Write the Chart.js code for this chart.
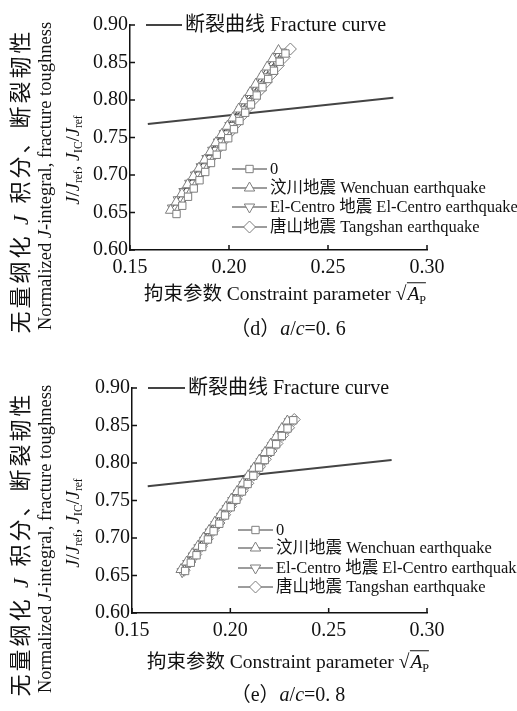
<!DOCTYPE html>
<html>
<head>
<meta charset="utf-8">
<script src="https://cdn.jsdelivr.net/npm/chart.js@4.4.0/dist/chart.umd.min.js"></script>
<style>
body { margin: 0; background: #fff; }
#page { position: relative; width: 517px; height: 711px; background: #fff; overflow: hidden;
        font-family: 'Liberation Serif', 'Noto Sans CJK SC', serif; color: #111; }
canvas { position: absolute; left: 0; }
.lab { position: absolute; white-space: nowrap; transform: translate(-50%, -50%); line-height: 1; }
.rot { transform: translate(-50%, -50%) rotate(-90deg); }
.wide { letter-spacing: 3px; }
sub { font-size: 0.62em; vertical-align: -0.3em; line-height: 0; font-style: normal; letter-spacing: 0; }
.rad { border-top: 1px solid #111; padding-left: 1px; }
</style>
</head>
<body>
<div id="page">
  <canvas id="chartD" width="517" height="360" style="top:0px"></canvas>
  <canvas id="chartE" width="517" height="360" style="top:363px"></canvas>

  <div class="lab rot wide" style="left:21px;top:181px;font-size:22px">无量纲化 <i>J</i> 积分、断裂韧性</div>
  <div class="lab rot" style="left:45px;top:176px;font-size:18.5px">Normalized <i>J</i>-integral, fracture toughness</div>
  <div class="lab rot" style="left:73px;top:160px;font-size:18.5px"><i>J</i>/<i>J</i><sub>ref</sub>, <i>J</i><sub>IC</sub>/<i>J</i><sub>ref</sub></div>
  <div class="lab" style="left:285px;top:294px;font-size:19.5px">拘束参数 Constraint parameter √<span class="rad"><i>A</i><sub>P</sub></span></div>
  <div class="lab" style="left:288px;top:328px;font-size:20px">（d）<i>a</i>/<i>c</i>=0. 6</div>

  <div class="lab rot wide" style="left:21px;top:544px;font-size:22px">无量纲化 <i>J</i> 积分、断裂韧性</div>
  <div class="lab rot" style="left:45px;top:539px;font-size:18.5px">Normalized <i>J</i>-integral, fracture toughness</div>
  <div class="lab rot" style="left:73px;top:523px;font-size:18.5px"><i>J</i>/<i>J</i><sub>ref</sub>, <i>J</i><sub>IC</sub>/<i>J</i><sub>ref</sub></div>
  <div class="lab" style="left:288px;top:662px;font-size:19.5px">拘束参数 Constraint parameter √<span class="rad"><i>A</i><sub>P</sub></span></div>
  <div class="lab" style="left:288px;top:694px;font-size:20px">（e）<i>a</i>/<i>c</i>=0. 8</div>
</div>
<script>
// tick values
const xTicks = [0.15, 0.20, 0.25, 0.30];
const yTicks = [0.60, 0.65, 0.70, 0.75, 0.80, 0.85, 0.90];

const fractureName = '断裂曲线 Fracture curve';
const seriesNames = ['0', '汶川地震 Wenchuan earthquake', 'El-Centro 地震 El-Centro earthquake', '唐山地震 Tangshan earthquake'];

// (d) a/c = 0.6
const dFracX = [0.159, 0.283];
const dFracY = [0.768, 0.803];
const dZeroX = [0.1735,0.1764,0.1793,0.1822,0.1851,0.1880,0.1909,0.1938,0.1967,0.1996,0.2025,0.2053,0.2082,0.2111,0.2140,0.2169,0.2198,0.2227,0.2256,0.2285];
const dZeroY = [0.648,0.659,0.671,0.682,0.693,0.704,0.716,0.727,0.738,0.749,0.761,0.772,0.783,0.794,0.806,0.817,0.828,0.839,0.851,0.862];
const dWenX = [0.1705,0.1734,0.1762,0.1791,0.1820,0.1848,0.1877,0.1906,0.1934,0.1963,0.1992,0.2020,0.2049,0.2078,0.2107,0.2135,0.2164,0.2193,0.2221,0.2250];
const dWenY = [0.653,0.664,0.675,0.687,0.698,0.709,0.720,0.731,0.743,0.754,0.765,0.776,0.788,0.799,0.810,0.821,0.832,0.844,0.855,0.866];
const dElcX = [0.1715,0.1744,0.1773,0.1802,0.1831,0.1860,0.1889,0.1918,0.1947,0.1976,0.2005,0.2033,0.2062,0.2091,0.2120,0.2149,0.2178,0.2207,0.2236,0.2265];
const dElcY = [0.656,0.667,0.678,0.689,0.700,0.711,0.722,0.733,0.744,0.755,0.766,0.776,0.787,0.798,0.809,0.820,0.831,0.842,0.853,0.864];
const dTanX = [0.1730,0.1761,0.1791,0.1822,0.1852,0.1883,0.1913,0.1944,0.1974,0.2005,0.2035,0.2066,0.2096,0.2127,0.2157,0.2188,0.2218,0.2249,0.2279,0.2310];
const dTanY = [0.657,0.668,0.679,0.690,0.701,0.713,0.724,0.735,0.746,0.757,0.768,0.779,0.790,0.801,0.813,0.824,0.835,0.846,0.857,0.868];

// (e) a/c = 0.8
const eFracX = [0.158, 0.282];
const eFracY = [0.769, 0.804];
const eZeroX = [0.1770,0.1799,0.1828,0.1857,0.1886,0.1915,0.1944,0.1973,0.2002,0.2031,0.2059,0.2088,0.2117,0.2146,0.2175,0.2204,0.2233,0.2262,0.2291,0.2320];
const eZeroY = [0.656,0.667,0.677,0.688,0.698,0.709,0.719,0.730,0.741,0.751,0.762,0.772,0.783,0.794,0.804,0.815,0.825,0.836,0.846,0.857];
const eWenX = [0.1750,0.1778,0.1807,0.1835,0.1864,0.1892,0.1921,0.1949,0.1977,0.2006,0.2034,0.2063,0.2091,0.2119,0.2148,0.2176,0.2205,0.2233,0.2262,0.2290];
const eWenY = [0.658,0.668,0.679,0.689,0.700,0.710,0.721,0.731,0.741,0.752,0.762,0.773,0.783,0.793,0.804,0.814,0.825,0.835,0.846,0.856];
const eElcX = [0.1755,0.1784,0.1812,0.1841,0.1870,0.1898,0.1927,0.1956,0.1984,0.2013,0.2042,0.2070,0.2099,0.2128,0.2157,0.2185,0.2214,0.2243,0.2271,0.2300];
const eElcY = [0.655,0.666,0.676,0.687,0.697,0.708,0.718,0.729,0.739,0.750,0.760,0.771,0.781,0.792,0.802,0.813,0.823,0.834,0.844,0.855];
const eTanX = [0.1765,0.1794,0.1824,0.1853,0.1883,0.1912,0.1942,0.1971,0.2001,0.2030,0.2060,0.2089,0.2119,0.2148,0.2178,0.2207,0.2237,0.2266,0.2296,0.2325];
const eTanY = [0.657,0.668,0.678,0.689,0.699,0.710,0.720,0.731,0.742,0.752,0.763,0.773,0.784,0.795,0.805,0.816,0.826,0.837,0.847,0.858];

const markerStyles = [
    { pointStyle: 'rect', rotation: 0, radius: 5.2 },
    { pointStyle: 'triangle', rotation: 0, radius: 6 },
    { pointStyle: 'triangle', rotation: 180, radius: 6 },
    { pointStyle: 'rectRot', rotation: 0, radius: 6 }
];
const markerColor = '#7d7d7d';
const lineColor = '#3a3a3a';
const tickFont = { family: "'Liberation Serif', serif", size: 20 };

function pts(xs, ys) {
    return xs.map((x, i) => ({ x: x, y: ys[i] }));
}

// inward tick marks + the two legends
const axisMarks = {
    id: 'axisMarks',
    afterDraw(chart, args, opts) {
        const ctx = chart.ctx;
        const a = chart.chartArea;
        const xs = chart.scales.x, ys = chart.scales.y;
        ctx.save();
        ctx.strokeStyle = '#111';
        ctx.lineWidth = 1.5;
        ctx.beginPath();
        xs.ticks.forEach(t => {
            const p = xs.getPixelForValue(t.value);
            ctx.moveTo(p, a.bottom);
            ctx.lineTo(p, a.bottom - 5);
        });
        ys.ticks.forEach(t => {
            const p = ys.getPixelForValue(t.value);
            ctx.moveTo(a.left, p);
            ctx.lineTo(a.left + 5, p);
        });
        ctx.stroke();

        const ds = chart.data.datasets;
        // fracture curve legend
        const f = opts.frac;
        const fr = ds[ds.length - 1];
        ctx.strokeStyle = fr.borderColor;
        ctx.lineWidth = fr.borderWidth;
        ctx.beginPath();
        ctx.moveTo(f.x0, f.y);
        ctx.lineTo(f.x1, f.y);
        ctx.stroke();
        ctx.fillStyle = '#111';
        ctx.textBaseline = 'middle';
        ctx.font = "20px 'Liberation Serif', 'Noto Sans CJK SC'";
        ctx.fillText(fr.label, f.tx, f.y + 1);

        // series legend
        const s = opts.series;
        ctx.font = "16.5px 'Liberation Serif', 'Noto Sans CJK SC'";
        for (let i = 0; i < 4; i++) {
            const d = ds[i];
            const y = s.ys[i];
            ctx.strokeStyle = lineColor;
            ctx.lineWidth = 1;
            ctx.beginPath();
            ctx.moveTo(s.x0, y);
            ctx.lineTo(s.x1, y);
            ctx.stroke();
            ctx.fillStyle = '#fff';
            ctx.strokeStyle = markerColor;
            Chart.helpers.drawPoint(ctx, {
                pointStyle: d.pointStyle, rotation: d.pointRotation,
                radius: d.pointRadius, borderWidth: 1
            }, (s.x0 + s.x1) / 2, y);
            ctx.fillStyle = '#111';
            ctx.fillText(d.label, s.tx, y + 1);
        }
        ctx.restore();
    }
};

function makeChart(id, series, frac, legendPos) {
    const datasets = series.map((p, i) => ({
        label: seriesNames[i],
        data: p,
        showLine: true,
        borderColor: lineColor,
        borderWidth: 1,
        pointStyle: markerStyles[i].pointStyle,
        pointRotation: markerStyles[i].rotation,
        pointRadius: markerStyles[i].radius,
        pointBackgroundColor: '#fff',
        pointBorderColor: markerColor,
        pointBorderWidth: 1
    }));
    datasets.push({
        label: fractureName,
        data: frac,
        showLine: true,
        borderColor: '#444',
        borderWidth: 2,
        pointRadius: 0
    });
    return new Chart(document.getElementById(id), {
        type: 'scatter',
        data: { datasets: datasets },
        plugins: [axisMarks],
        options: {
            responsive: false,
            animation: false,
            devicePixelRatio: 1,
            layout: { padding: { left: 0, right: 90, top: 25, bottom: 0 } },
            plugins: {
                legend: { display: false },
                tooltip: { enabled: false },
                axisMarks: legendPos
            },
            scales: {
                x: {
                    type: 'linear', min: 0.15, max: 0.30,
                    afterBuildTicks: s => { s.ticks = xTicks.map(v => ({ value: v })); },
                    afterFit: s => { s.height = 110; },
                    grid: { display: false, drawTicks: false },
                    border: { display: true, color: '#111', width: 1.5 },
                    ticks: { color: '#111', font: tickFont, padding: 6, maxRotation: 0, autoSkip: false,
                             callback: v => v.toFixed(2) }
                },
                y: {
                    type: 'linear', min: 0.60, max: 0.90,
                    afterBuildTicks: s => { s.ticks = yTicks.map(v => ({ value: v })); },
                    afterFit: s => { s.width = legendPos.axisLeft; },
                    grid: { display: false, drawTicks: false },
                    border: { display: true, color: '#111', width: 1.5 },
                    ticks: { color: '#111', font: tickFont, padding: 2, autoSkip: false,
                             callback: v => v.toFixed(2) }
                }
            }
        }
    });
}

makeChart('chartD',
    [pts(dZeroX, dZeroY), pts(dWenX, dWenY), pts(dElcX, dElcY), pts(dTanX, dTanY)],
    pts(dFracX, dFracY),
    { axisLeft: 130,
      frac: { x0: 146, x1: 182, y: 25, tx: 185 },
      series: { x0: 232, x1: 267, tx: 270, ys: [169, 188, 207, 227] } });

makeChart('chartE',
    [pts(eZeroX, eZeroY), pts(eWenX, eWenY), pts(eElcX, eElcY), pts(eTanX, eTanY)],
    pts(eFracX, eFracY),
    { axisLeft: 132,
      frac: { x0: 148, x1: 185, y: 25, tx: 188 },
      series: { x0: 238, x1: 273, tx: 276, ys: [167, 185, 205, 224] } });
</script>
</body>
</html>
